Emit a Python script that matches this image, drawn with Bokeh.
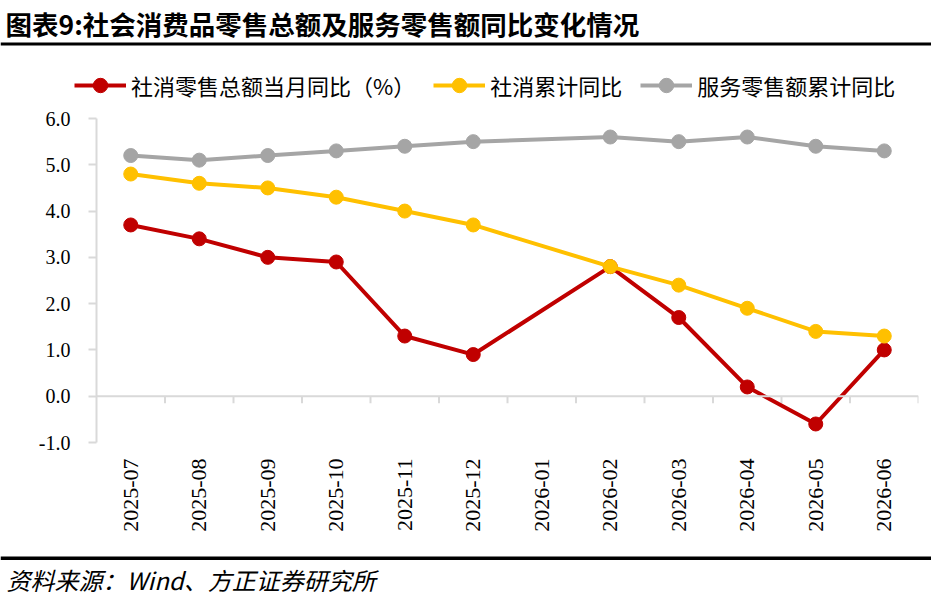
import math
from bokeh.plotting import figure
from bokeh.layouts import column
from bokeh.models import (Range1d, FixedTicker, NumeralTickFormatter, Span, Label,
                          BoxAnnotation, Legend, LegendItem, LinearAxis)
from bokeh.embed import file_html
from bokeh.resources import INLINE

# ---- data ----
categories = ["2025-07", "2025-08", "2025-09", "2025-10", "2025-11", "2025-12",
              "2026-01", "2026-02", "2026-03", "2026-04", "2026-05", "2026-06"]
retail_monthly = [3.7, 3.4, 3.0, 2.9, 1.3, 0.9, None, 2.8, 1.7, 0.2, -0.6, 1.0]
retail_cumulative = [4.8, 4.6, 4.5, 4.3, 4.0, 3.7, None, 2.8, 2.4, 1.9, 1.4, 1.3]
service_cumulative = [5.2, 5.1, 5.2, 5.3, 5.4, 5.5, None, 5.6, 5.5, 5.6, 5.4, 5.3]
series_names = ["社消零售总额当月同比（%）", "社消累计同比", "服务零售额累计同比"]
y_ticks = [-1, 0, 1, 2, 3, 4, 5, 6]
title_text = "图表9:社会消费品零售总额及服务零售额同比变化情况"
source_text = "资料来源：Wind、方正证券研究所"

colors = ["#C00000", "#FFC000", "#A5A5A5"]
W = 931
HA, HC = 106, 52
HB = 597 - HA - HC

xs = list(range(len(categories)))
all_series = [retail_monthly, retail_cumulative, service_cumulative]


def valid(vals):
    px = [x for x, v in zip(xs, vals) if v is not None]
    py = [v for v in vals if v is not None]
    return px, py


def no_align(f):
    if "frame_align" in f.properties():
        f.frame_align = False
    return f


def blank(h, xr=None):
    f = figure(width=W, height=h, output_backend="svg", toolbar_location=None,
               x_range=xr if xr is not None else Range1d(0, W), y_range=Range1d(0, h),
               min_border_left=0, min_border_right=0, min_border_top=0, min_border_bottom=0,
               x_axis_location=None, y_axis_location=None)
    f.outline_line_color = None
    f.xgrid.visible = False
    f.ygrid.visible = False
    f.border_fill_color = "white"
    f.background_fill_color = "white"
    return no_align(f)


# ---- header: title, rule, legend ----
# header x-range lies away from the series so its legend proxies stay off-canvas
pa = blank(HA, xr=Range1d(1000, 1000 + W))
pa.add_layout(Label(x=5, y=HA - 23, x_units="screen", y_units="screen", text=title_text,
                    text_font="Noto Sans CJK SC", text_font_size="26.5px", text_font_style="bold",
                    text_color="black", text_baseline="middle", text_align="left"))
pa.add_layout(BoxAnnotation(left=0, right=W, top=HA - 42, bottom=HA - 45,
                            left_units="screen", right_units="screen",
                            top_units="screen", bottom_units="screen",
                            fill_color="black", fill_alpha=1, line_color=None))
items = []
for vals, col, name in zip(all_series, colors, series_names):
    px, py = valid(vals)
    r1 = pa.line(px, py, line_color=col, line_width=4)
    r2 = pa.scatter(px, py, marker="circle", size=15, fill_color=col, line_color=col)
    items.append(LegendItem(label=name, renderers=[r1, r2]))
LEG_H = 36
LEG_CY = 85
legend = Legend(items=items, orientation="horizontal",
                location=(74, HA - (LEG_CY + LEG_H / 2)),
                glyph_width=52, glyph_height=LEG_H, label_standoff=5, spacing=18,
                padding=0, margin=0, border_line_color=None, background_fill_alpha=0,
                label_text_font="Noto Sans CJK SC", label_text_font_size="22px",
                label_text_color="black", label_height=LEG_H)
pa.add_layout(legend, "center")

# ---- main chart ----
BL, BR = 96, 13
BT = 118 - HA
frame_h = 324
BB = HB - BT - frame_h

p = figure(width=W, height=HB, output_backend="svg", toolbar_location=None,
           x_range=Range1d(-0.5, len(categories) - 0.5),
           y_range=Range1d(y_ticks[0], y_ticks[-1]),
           min_border_left=BL, min_border_right=BR, min_border_top=BT, min_border_bottom=BB,
           x_axis_location=None, y_axis_location=None)
no_align(p)
p.outline_line_color = None
p.xgrid.visible = False
p.ygrid.visible = False
p.background_fill_color = "white"
p.border_fill_color = "white"

yax = LinearAxis(ticker=FixedTicker(ticks=y_ticks),
                 formatter=NumeralTickFormatter(format="0.0"))
yax.axis_line_color = "#D9D9D9"
yax.axis_line_width = 2
yax.major_tick_line_color = "#D9D9D9"
yax.major_tick_line_width = 2
yax.major_tick_in = 0
yax.major_tick_out = 8
yax.minor_tick_line_color = None
yax.major_label_text_font = "Liberation Serif"
yax.major_label_text_font_size = "20px"
yax.major_label_text_color = "black"
yax.major_label_standoff = 18
p.add_layout(yax, "left")

xax = LinearAxis(ticker=FixedTicker(ticks=xs),
                 major_label_overrides={i: c for i, c in enumerate(categories)})
xax.axis_line_color = None
xax.major_tick_line_color = None
xax.minor_tick_line_color = None
xax.major_tick_in = 0
xax.major_tick_out = 0
xax.major_label_orientation = math.pi / 2
xax.major_label_text_font = "Liberation Serif"
xax.major_label_text_font_size = "22px"
xax.major_label_text_color = "black"
xax.major_label_standoff = 16
p.add_layout(xax, "below")

p.add_layout(Span(location=0, dimension="width", line_color="#D9D9D9", line_width=2))
tick_len = 7 / (frame_h / (y_ticks[-1] - y_ticks[0]))
bounds = [i + 0.5 for i in range(len(categories))]
p.segment(x0=bounds, y0=[0] * len(bounds), x1=bounds, y1=[-tick_len] * len(bounds),
          line_color="#D9D9D9", line_width=2)

for vals, col in zip(all_series, colors):
    px, py = valid(vals)
    p.line(px, py, line_color=col, line_width=4)
    p.scatter(px, py, marker="circle", size=14, fill_color=col, line_color=col)

# ---- footer: rule and source ----
pc = blank(HC)
pc.add_layout(BoxAnnotation(left=0, right=W, top=HC - 11, bottom=HC - 14.5,
                            left_units="screen", right_units="screen",
                            top_units="screen", bottom_units="screen",
                            fill_color="black", fill_alpha=1, line_color=None))
pc.add_layout(Label(x=6, y=HC - 34, x_units="screen", y_units="screen", text=source_text,
                    text_font="Noto Sans CJK SC", text_font_size="24px", text_font_style="italic",
                    text_color="black", text_baseline="middle", text_align="left"))

layout = column(pa, p, pc, spacing=0)
open("out.html", "w").write(file_html(layout, INLINE))
